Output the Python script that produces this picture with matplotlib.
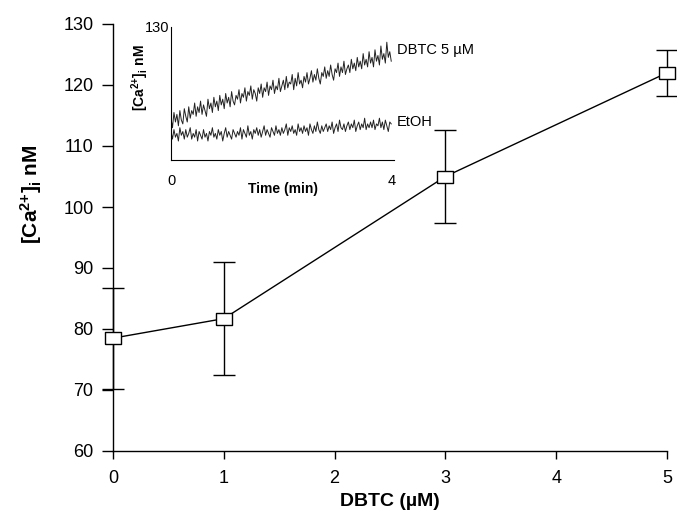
import numpy as np
import matplotlib.pyplot as plt

plt.rcParams['font.family'] = ['Liberation Sans', 'DejaVu Sans']
plt.rcParams['mathtext.fontset'] = 'custom'
plt.rcParams['mathtext.rm'] = 'Liberation Sans'
plt.rcParams['mathtext.bf'] = 'Liberation Sans:bold'
plt.rcParams['mathtext.it'] = 'Liberation Sans:italic'

# main panel data
dose = [0, 1, 3, 5]
ca_mean = [78.5, 81.7, 105.0, 122.0]
ca_err = [8.3, 9.3, 7.6, 3.8]

# inset traces (Ca2+ in nM)
trace_dbtc = [82, 77, 85, 80, 84, 78, 86, 81, 79, 87, 83, 80, 88, 82, 86,
              84, 90, 83, 88, 85, 91, 84, 89, 86, 83, 92, 87, 90, 85, 93,
              88, 91, 86, 94, 89, 92, 87, 95, 90, 93, 88, 96, 91, 89, 94,
              92, 97, 90, 95, 93, 98, 91, 96, 94, 99, 92, 97, 95, 91, 98,
              95, 100, 93, 98, 96, 101, 94, 99, 97, 102, 95, 99, 97, 103, 96,
              99, 102, 97, 104, 98, 101, 100, 105, 97, 103, 99, 106, 100, 102, 98,
              104, 101, 106, 100, 103, 107, 101, 105, 102, 108, 103, 100, 106, 104, 109,
              103, 107, 104, 110, 105, 102, 108, 106, 111, 104, 109, 106, 112, 105, 108,
              110, 106, 113, 108, 111, 107, 114, 109, 112, 108, 116, 110, 113, 109, 117,
              111, 114, 109, 118, 112, 115, 110, 120, 113, 116, 111, 122, 114, 117, 112]
trace_etoh = [75, 71, 76, 72, 74, 70, 77, 73, 75, 71, 76, 72, 74, 77, 71,
              74, 72, 76, 70, 75, 73, 71, 76, 72, 74, 70, 75, 73, 77, 72,
              74, 71, 76, 73, 75, 70, 74, 77, 72, 75, 73, 71, 76, 74, 72,
              75, 73, 77, 71, 76, 74, 72, 78, 73, 75, 71, 76, 74, 77, 73,
              76, 72, 75, 78, 73, 76, 74, 72, 77, 75, 73, 78, 74, 76, 73,
              77, 74, 76, 79, 73, 77, 75, 78, 74, 76, 73, 79, 75, 77, 74,
              78, 75, 77, 73, 79, 76, 74, 78, 75, 80, 76, 74, 78, 75, 77,
              79, 75, 78, 76, 80, 74, 77, 79, 75, 81, 77, 76, 79, 75, 78,
              80, 76, 79, 77, 81, 75, 78, 80, 76, 79, 77, 82, 76, 79, 77,
              80, 77, 81, 76, 79, 78, 82, 77, 80, 76, 81, 78, 75, 80, 79]
trace_end = 4.0

fig = plt.figure(figsize=(6.77, 5.27), dpi=100)
ax = fig.add_axes([113/677, 76/527, 554/677, 427/527])

# rectangle marker, wider than tall
box = [(-1, -0.7), (1, -0.7), (1, 0.7), (-1, 0.7), (-1, -0.7)]

ax.errorbar(dose, ca_mean, yerr=ca_err, fmt='none', ecolor='black', elinewidth=1,
            capsize=8, capthick=1, clip_on=False, zorder=2)
ax.plot(dose, ca_mean, color='black', lw=1, marker=box, markersize=12,
        markerfacecolor='white', markeredgecolor='black', markeredgewidth=1,
        clip_on=False, zorder=3)

ax.set_xlim(0, 5)
ax.set_ylim(60, 130)
ax.set_xticks(range(0, 6))
ax.set_yticks(range(60, 131, 10))
ax.tick_params(axis='both', labelsize=13, width=1, colors='black')
ax.tick_params(axis='y', length=8, pad=6)
ax.tick_params(axis='x', length=6, pad=8)
for s in ['top', 'right']:
    ax.spines[s].set_visible(False)
for s in ['left', 'bottom']:
    ax.spines[s].set_linewidth(1)

ax.set_xlabel('DBTC (µM)', fontsize=14, fontweight='bold', labelpad=4)
ax.set_ylabel(r'[Ca$^{\mathbf{2{+}}}$]$_{\mathbf{i}}$ nM', fontsize=15, fontweight='bold')
ax.yaxis.set_label_coords(-0.125, 0.6)

# inset
axi = fig.add_axes([171/677, 367/527, 223/677, 133/527])
axi.plot(np.linspace(0, trace_end, len(trace_dbtc)), trace_dbtc, color='#222222', lw=0.7)
axi.plot(np.linspace(0, trace_end, len(trace_etoh)), trace_etoh, color='#222222', lw=0.7)
axi.set_xlim(0, 4.05)
axi.set_ylim(60, 130)
axi.set_xticks([0, 4])
axi.set_yticks([130])
axi.tick_params(axis='both', length=0, labelsize=10.5)
axi.tick_params(axis='x', pad=10)
axi.tick_params(axis='y', pad=1)
for s in ['top', 'right']:
    axi.spines[s].set_visible(False)
for s in ['left', 'bottom']:
    axi.spines[s].set_linewidth(0.8)
axi.set_xlabel('Time (min)', fontsize=10, fontweight='bold', labelpad=-4)
axi.set_ylabel(r'[Ca$^{\mathbf{2{+}}}$]$_{\mathbf{i}}$ nM', fontsize=10, fontweight='bold', labelpad=2)
axi.yaxis.set_label_coords(-0.09, 0.62)

fig.text(397/677, 1 - 50/527, 'DBTC 5 µM', fontsize=10.5, va='center')
fig.text(397/677, 1 - 122/527, 'EtOH', fontsize=10.5, va='center')

fig.savefig('out.png', dpi=100)
